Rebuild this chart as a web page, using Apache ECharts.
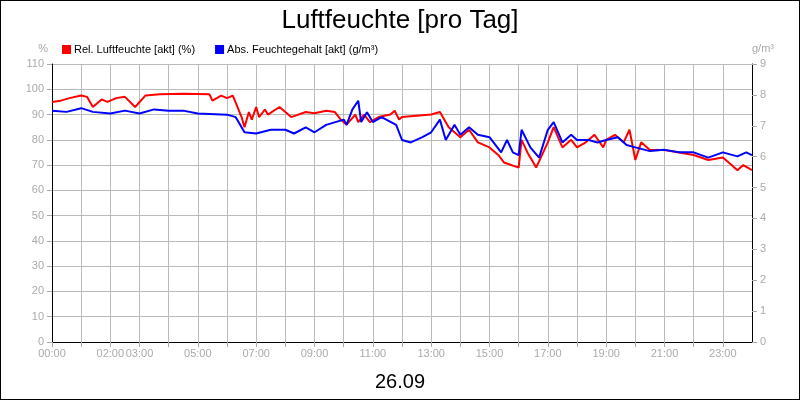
<!DOCTYPE html>
<html><head><meta charset="utf-8">
<script src="https://cdn.jsdelivr.net/npm/echarts@6/dist/echarts.min.js"></script>
<style>html,body{margin:0;padding:0}#c{width:798px;height:398px;border:1px solid #000;background:#fff}</style>
</head><body><div id="c"></div>
<script>
const xTickLabels = ['00:00','02:00','03:00','05:00','07:00','09:00','11:00','13:00','15:00','17:00','19:00','21:00','23:00'];
const relHours = [0,0.3,0.6,1,1.2,1.4,1.7,1.9,2.2,2.5,2.85,3.2,3.7,4.5,5.4,5.5,5.8,6,6.2,6.5,6.6,6.75,6.85,7,7.1,7.3,7.4,7.8,8.2,8.7,9,9.4,9.7,9.9,10.1,10.4,10.5,10.7,10.9,11.2,11.6,11.75,11.9,12,12.5,13,13.3,13.6,14,14.3,14.6,15,15.3,15.5,16,16.1,16.3,16.6,17,17.2,17.5,17.8,18,18.3,18.6,18.9,19,19.3,19.6,19.8,20,20.2,20.5,21,21.5,22,22.5,23,23.3,23.5,23.7,24];
const relValues = [95,95.5,96.5,97.5,97,93,96,95,96.5,97,93,97.5,98,98.2,98,95.5,97.5,96.5,97.5,89,85,91,88,93,89,92,90,93,89,91,90.5,91.5,91,88,86,90,87,90,87,89,90,91.5,88,89,89.5,90,91,85,81,84,79,77,74,71,69,80,75,69,79,85,77,80,77,79,82,77,80,82,79,84,72,79,76,76,75,74,72,73,70,68,70,68];
const absHours = [0,0.5,1,1.4,2,2.5,3,3.5,4,4.5,5,6,6.3,6.6,7,7.5,8,8.3,8.7,9,9.4,10,10.1,10.3,10.5,10.6,10.8,11,11.3,11.8,12,12.3,12.7,13,13.3,13.5,13.8,14,14.3,14.6,15,15.4,15.6,15.8,16,16.1,16.4,16.7,17,17.2,17.5,17.8,18,18.4,18.7,19,19.4,19.7,20,20.5,21,21.5,22,22.5,23,23.5,23.8,24];
const absValues = [7.49,7.45,7.57,7.45,7.4,7.49,7.4,7.53,7.49,7.49,7.4,7.36,7.28,6.79,6.75,6.87,6.87,6.75,6.95,6.79,7.03,7.2,7.03,7.53,7.81,7.12,7.44,7.12,7.28,7.03,6.54,6.46,6.63,6.79,7.2,6.54,7.03,6.71,6.95,6.71,6.63,6.14,6.54,6.14,6.05,6.87,6.3,5.97,6.87,7.12,6.46,6.71,6.54,6.54,6.46,6.54,6.63,6.38,6.3,6.18,6.22,6.14,6.14,5.97,6.14,6.01,6.14,6.05];
const fmt = h => (h<10?'0':'')+h+':00';
const chart = echarts.init(document.getElementById('c'));
chart.setOption({
  animation:false,
  title:[{text:'Luftfeuchte [pro Tag]',left:'center',top:2,textStyle:{fontFamily:'Liberation Sans',fontSize:26,fontWeight:'normal',color:'#000'}},
         {text:'26.09',left:'center',top:366,textStyle:{fontFamily:'Liberation Sans',fontSize:20,fontWeight:'normal',color:'#000'}}],
  legend:{left:56,top:38,itemWidth:9,itemHeight:9,itemGap:20,icon:'rect',
    textStyle:{fontFamily:'Liberation Sans',fontSize:11,color:'#000',padding:[0,0,0,-2]},
    data:['Rel. Luftfeuchte [akt] (%)','Abs. Feuchtegehalt [akt] (g/m³)']},
  grid:{left:51,right:47,top:63,bottom:57},
  xAxis:{type:'value',min:0,max:24,interval:1,
    axisLine:{lineStyle:{color:'#000'}},axisTick:{lineStyle:{color:'#aaa'},length:5},
    splitLine:{show:true,lineStyle:{color:'#bbb'}},
    axisLabel:{color:'#aaa',fontSize:11,fontFamily:'Liberation Sans',margin:6,showMaxLabel:false,
      formatter:v=>xTickLabels.includes(fmt(v))?fmt(v):''}},
  yAxis:[{type:'value',min:0,max:110,interval:10,name:'%',nameLocation:'end',nameGap:10,
      nameTextStyle:{color:'#aaa',fontSize:11,align:'right',padding:[0,4,0,0]},
      axisLine:{show:true,lineStyle:{color:'#000'}},axisTick:{show:true,lineStyle:{color:'#aaa'}},
      splitLine:{lineStyle:{color:'#bbb'}},axisLabel:{color:'#aaa',fontSize:11,fontFamily:'Liberation Sans'}},
    {type:'value',min:0,max:9,interval:1,position:'right',name:'g/m³',nameGap:10,
      nameTextStyle:{color:'#aaa',fontSize:11,align:'left'},
      axisLine:{show:true,lineStyle:{color:'#000'}},axisTick:{show:true,lineStyle:{color:'#aaa'}},
      splitLine:{show:false},axisLabel:{color:'#aaa',fontSize:11,fontFamily:'Liberation Sans'}}],
  series:[
    {name:'Rel. Luftfeuchte [akt] (%)',type:'line',yAxisIndex:0,symbol:'none',color:'#ff0000',lineStyle:{width:2},
      data:relHours.map((h,i)=>[h,relValues[i]])},
    {name:'Abs. Feuchtegehalt [akt] (g/m³)',type:'line',yAxisIndex:1,symbol:'none',color:'#0000ff',lineStyle:{width:2},
      data:absHours.map((h,i)=>[h,absValues[i]])}
  ]
});
</script></body></html>
